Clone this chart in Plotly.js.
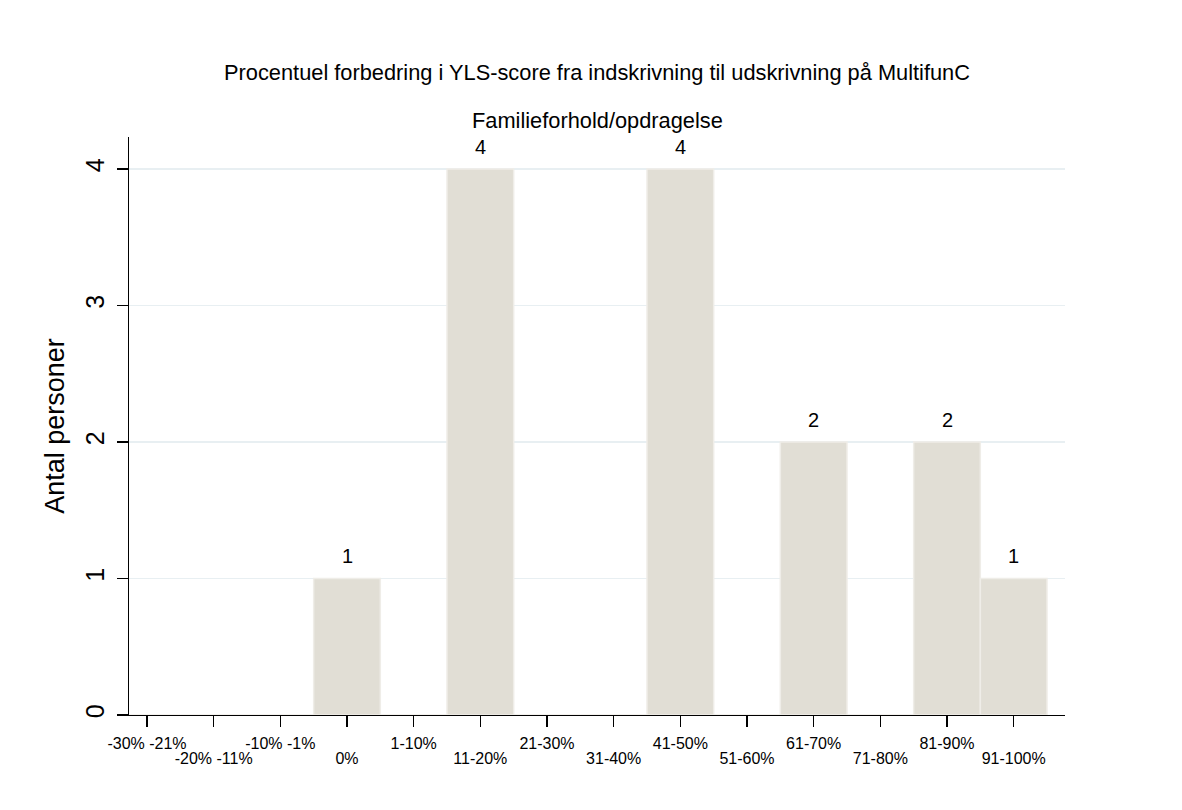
<!DOCTYPE html>
<html>
<head>
<meta charset="utf-8">
<script src="https://cdn.plot.ly/plotly-3.0.1.min.js"></script>
<style>html,body{margin:0;padding:0;background:#fff;}#chart{width:1182px;height:810px;}</style>
</head>
<body>
<div id="chart"></div>
<script>
var categories = ["-30% -21%","-20% -11%","-10% -1%","0%","1-10%","11-20%","21-30%","31-40%","41-50%","51-60%","61-70%","71-80%","81-90%","91-100%"];
var counts = [0,0,0,1,0,4,0,0,4,0,2,0,2,1];
var yTicks = [0,1,2,3,4];

var xIdx = categories.map(function(c,i){return i;});
var evenIdx = xIdx.filter(function(i){return i % 2 === 0;});
var oddIdx = xIdx.filter(function(i){return i % 2 === 1;});
var evenText = evenIdx.map(function(i){return categories[i];});
var oddText = oddIdx.map(function(i){return categories[i];});
var FONT = "Liberation Sans, Arial, sans-serif";

var trace = {
  type: "bar",
  x: xIdx,
  y: counts,
  width: 1,
  marker: {color: "#e1ded5", line: {color: "#efede8", width: 1.5}},
  hoverinfo: "x+y"
};

var labelAnns = [];
xIdx.forEach(function(i){
  if (counts[i] > 0) {
    labelAnns.push({x: i, y: counts[i], xref: "x", yref: "y", text: String(counts[i]),
      showarrow: false, yanchor: "bottom", yshift: 9, font: {family: FONT, size: 20, color: "#000"}});
  }
});

var XRANGE = [-0.27, 13.77];
var layout = {
  width: 1182, height: 810,
  paper_bgcolor: "#fff", plot_bgcolor: "#fff",
  margin: {l: 129, r: 117, t: 137, b: 95},
  showlegend: false,
  font: {family: FONT, color: "#000"},
  title: {text: "Procentuel forbedring i YLS-score fra indskrivning til udskrivning på MultifunC",
    font: {size: 21.8, color: "#000"}, x: 0.5, xref: "paper", y: 1 - 72/810, yref: "container", yanchor: "middle"},
  annotations: [{text: "Familieforhold/opdragelse", xref: "paper", yref: "paper", x: 0.5,
    y: (810 - 95 - 120) / (810 - 137 - 95), yanchor: "middle", showarrow: false, font: {size: 21.8, color: "#000"}}].concat(labelAnns),
  xaxis: {
    range: XRANGE, tickmode: "array", tickvals: evenIdx, ticktext: evenText,
    showgrid: false, zeroline: false, showline: true, linecolor: "#000", linewidth: 1.3,
    ticks: "outside", ticklen: 11, tickcolor: "#000", tickwidth: 1.3,
    tickfont: {size: 16, color: "#000"}, tickangle: 0, fixedrange: true, ticklabelstandoff: 2
  },
  xaxis2: {
    overlaying: "x", anchor: "y", side: "bottom",
    range: XRANGE, tickmode: "array", tickvals: oddIdx, ticktext: oddText,
    showgrid: false, zeroline: false, showline: false,
    ticks: "outside", ticklen: 11, tickcolor: "#000", tickwidth: 1.3,
    tickfont: {size: 16, color: "#000"}, tickangle: 0, fixedrange: true, ticklabelstandoff: 18
  },
  yaxis: {
    range: [0, 4.234], tickmode: "array", tickvals: yTicks, ticktext: yTicks.map(String),
    showgrid: true, gridcolor: "#e8eff2", gridwidth: 1.3, zeroline: false,
    showline: true, linecolor: "#000", linewidth: 1.3,
    ticks: "outside", ticklen: 11, tickcolor: "#000", tickwidth: 1.3,
    tickfont: {size: 25, color: "#000"}, tickangle: -90, ticklabelstandoff: 3,
    title: {text: "Antal personer", font: {size: 27, color: "#000"}, standoff: 8}, fixedrange: true
  },
  shapes: [{type: "line", xref: "paper", yref: "paper", x0: -11/936, x1: 0, y0: 0, y1: 0,
    line: {color: "#000", width: 1.3}}]
};

var ghost = {type: "scatter", x: [XRANGE[0]], y: [0], xaxis: "x2", yaxis: "y", mode: "markers",
  marker: {opacity: 0, size: 1}, hoverinfo: "skip", showlegend: false};

Plotly.newPlot("chart", [trace, ghost], layout, {displayModeBar: false, staticPlot: true});
</script>
</body>
</html>
